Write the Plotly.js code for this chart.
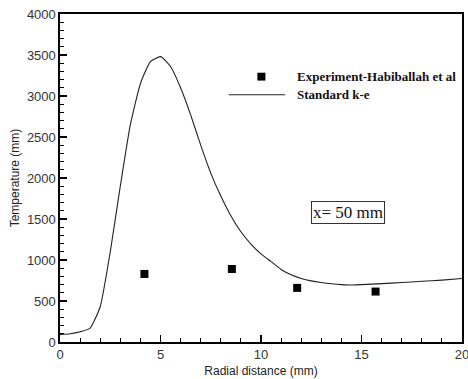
<!DOCTYPE html>
<html>
<head>
<meta charset="utf-8">
<script src="https://cdn.plot.ly/plotly-3.0.1.min.js"></script>
<style>html,body{margin:0;padding:0;background:#fff;}#chart{width:468px;height:379px;}</style>
</head>
<body>
<div id="chart"></div>
<script>
// Standard k-e model curve
const modelX = [0, 0.5, 1.0, 1.5, 2.0, 2.5, 3.0, 3.5, 4.0, 4.5, 5.0, 5.5, 6.0, 6.5, 7.0, 7.5, 8.0, 8.5, 9.0, 9.5, 10, 10.5, 11, 11.5, 12, 12.5, 13, 13.5, 14, 14.5, 15, 16, 17, 18, 19, 20];
const modelY = [90, 100, 125, 170, 430, 1100, 1900, 2650, 3150, 3420, 3480, 3360, 3100, 2770, 2400, 2060, 1780, 1540, 1345, 1195, 1075, 980, 885, 820, 775, 745, 725, 710, 700, 695, 700, 712, 725, 740, 755, 775];
// Experiment - Habiballah et al
const expX = [4.2, 8.55, 11.8, 15.7];
const expY = [830, 890, 660, 615];

const xTicks = [0, 5, 10, 15, 20];
const yTicks = [0, 500, 1000, 1500, 2000, 2500, 3000, 3500, 4000];

const serif = 'Liberation Serif, Times New Roman, serif';
const sans = 'Liberation Sans, Arial, sans-serif';

const data = [
  {x: modelX, y: modelY, type: 'scatter', mode: 'lines', line: {color: '#222', width: 1.1, shape: 'spline', smoothing: 0.5}, showlegend: false, hoverinfo: 'skip'},
  {x: expX, y: expY, type: 'scatter', mode: 'markers', marker: {symbol: 'square', size: 8, color: '#000'}, showlegend: false, hoverinfo: 'skip'}
];

const layout = {
  width: 468, height: 379,
  margin: {l: 60, r: 6, t: 14, b: 37, pad: 0},
  paper_bgcolor: '#fff', plot_bgcolor: '#fff',
  showlegend: false,
  xaxis: {
    range: [0, 20], tickvals: xTicks, ticktext: xTicks.map(String),
    ticks: 'inside', ticklen: 7, tickwidth: 1.5, tickcolor: '#000',
    minor: {dtick: 1, ticks: 'inside', ticklen: 4, tickwidth: 1, tickcolor: '#000', showgrid: false},
    showgrid: false, zeroline: false, showline: true, linewidth: 1.6, linecolor: '#000', mirror: true,
    tickfont: {family: sans, size: 13, color: '#333'},
    ticklabeloverflow: 'allow',
    title: {text: 'Radial distance (mm)', font: {family: sans, size: 12, color: '#222'}, standoff: 5},
    automargin: false
  },
  yaxis: {
    range: [0, 4000], tickvals: yTicks, ticktext: yTicks.map(String),
    ticks: 'inside', ticklen: 7, tickwidth: 1.5, tickcolor: '#000',
    minor: {dtick: 100, ticks: 'inside', ticklen: 4, tickwidth: 1, tickcolor: '#000', showgrid: false},
    showgrid: false, zeroline: false, showline: true, linewidth: 1.6, linecolor: '#000', mirror: true,
    tickfont: {family: sans, size: 13, color: '#333'},
    title: {text: 'Temperature (mm)', font: {family: sans, size: 12, color: '#222'}, standoff: 4},
    automargin: false
  },
  shapes: [
    {type: 'line', xref: 'paper', yref: 'paper', x0: 0.42, x1: 0.56, y0: 0.754, y1: 0.754, line: {color: '#222', width: 1.1}},
    {type: 'rect', xref: 'paper', yref: 'paper', x0: 0.491, x1: 0.511, y0: 0.797, y1: 0.821, fillcolor: '#000', line: {width: 0}}
  ],
  annotations: [
    {xref: 'paper', yref: 'paper', x: 0.585, y: 0.809, xanchor: 'left', yanchor: 'middle', showarrow: false,
     text: '<b>Experiment-Habiballah et al</b>', font: {family: serif, size: 13, color: '#111'}},
    {xref: 'paper', yref: 'paper', x: 0.585, y: 0.755, xanchor: 'left', yanchor: 'middle', showarrow: false,
     text: '<b>Standard k-e</b>', font: {family: serif, size: 13, color: '#111'}},
    {xref: 'paper', yref: 'paper', x: 0.717, y: 0.395, xanchor: 'center', yanchor: 'middle', showarrow: false,
     text: 'x= 50 mm', font: {family: serif, size: 17, color: '#111'},
     bordercolor: '#333', borderwidth: 1, borderpad: 1, bgcolor: '#fff'}
  ]
};

Plotly.newPlot('chart', data, layout, {staticPlot: true, displayModeBar: false});
</script>
</body>
</html>
